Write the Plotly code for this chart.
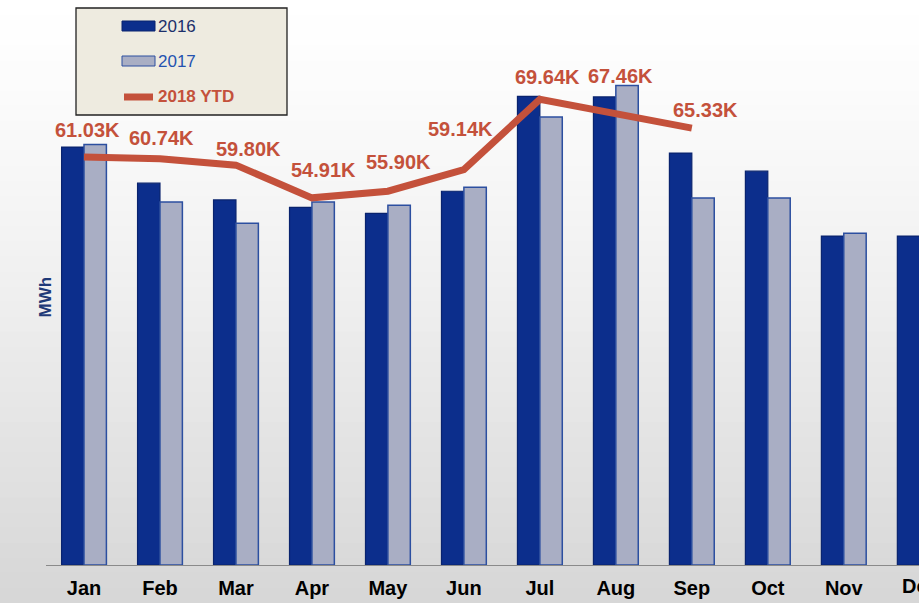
import plotly.graph_objects as go

# ── data ──────────────────────────────────────────────────────────────────────
months = ["Jan", "Feb", "Mar", "Apr", "May", "Jun",
          "Jul", "Aug", "Sep", "Oct", "Nov", "Dec"]
mwh_2016 = [62.5, 57.1, 54.6, 53.5, 52.6, 55.9, 70.1, 70.0, 61.6, 58.9, 49.2, 49.2]
mwh_2017 = [62.9, 54.3, 51.1, 54.3, 53.8, 56.5, 67.0, 71.7, 54.9, 54.9, 49.6, 55.0]
ytd_months = months[:9]
mwh_2018 = [61.03, 60.74, 59.80, 54.91, 55.90, 59.14, 69.64, 67.46, 65.33]

NAVY = "#0c2e8c"
GREY = "#a9aec4"
RED = "#c4513b"
FONT = "Liberation Sans, Arial, sans-serif"

# label nudges (px) so the value labels sit like the original
lbl_dx = [4, 2, 13, 12, 11, -3, 8, 5, 14]
lbl_dy = [27, 21, 16, 28, 29, 41, 22, 38, 18]

fig = go.Figure()
fig.add_trace(go.Bar(
    x=months, y=mwh_2016, name="2016",
    marker=dict(color=NAVY, line=dict(color="#09236e", width=1.2)),
))
fig.add_trace(go.Bar(
    x=months, y=mwh_2017, name="2017",
    marker=dict(color=GREY, line=dict(color="#2c4fa0", width=1.5)),
))
fig.add_trace(go.Scatter(
    x=ytd_months, y=mwh_2018, name="2018 YTD", mode="lines",
    line=dict(color=RED, width=7),
))

# ── layout helpers (pixel -> paper) ───────────────────────────────────────────
W, H, L, B = 919, 603, 46, 38
PW, PH = W - L, H - B


def px(xp):
    return (xp - L) / PW


def py(yp):
    return (H - B - yp) / PH


ann = []
# value labels for 2018
for m, v, dx, dy in zip(ytd_months, mwh_2018, lbl_dx, lbl_dy):
    ann.append(dict(
        x=m, y=v, xref="x", yref="y", text=f"<b>{v:.2f}K</b>",
        showarrow=False, yshift=dy, xshift=dx,
        font=dict(family=FONT, size=20, color=RED),
    ))

# Dec label (cut off by the right edge, as in the original)
ann.append(dict(
    x=px(920), y=0, xref="paper", yref="paper", text="<b>Dec</b>", showarrow=False,
    xanchor="center", yanchor="top", yshift=-8,
    font=dict(family=FONT, size=20, color="black"),
))

# axis title
ann.append(dict(
    x=px(33), y=py(297), xref="paper", yref="paper", text="<b>MWh</b>",
    showarrow=False, textangle=-90,
    font=dict(family=FONT, size=17, color="#1f3a78"),
))

# ── background gradient + manual legend ──────────────────────────────────────
shapes = []
n = 40
for i in range(n):
    c = int(255 - 40 * (i / (n - 1)) ** 1.3)
    shapes.append(dict(
        type="rect", xref="paper", yref="paper", layer="below",
        x0=px(0), x1=px(W), y0=py(H * i / n), y1=py(H * (i + 1) / n + 1),
        fillcolor=f"rgb({c},{c},{c})", line=dict(width=0),
    ))

shapes.append(dict(
    type="rect", xref="paper", yref="paper",
    x0=px(76), x1=px(287), y0=py(8), y1=py(115),
    fillcolor="#eeebe0", line=dict(color="#222", width=1.3),
))
shapes.append(dict(
    type="rect", xref="paper", yref="paper",
    x0=px(122), x1=px(155), y0=py(21), y1=py(31),
    fillcolor=NAVY, line=dict(color="#09236e", width=1),
))
shapes.append(dict(
    type="rect", xref="paper", yref="paper",
    x0=px(122), x1=px(155), y0=py(56), y1=py(66),
    fillcolor=GREY, line=dict(color="#2c4fa0", width=1),
))
shapes.append(dict(
    type="line", xref="paper", yref="paper",
    x0=px(124), x1=px(153), y0=py(97), y1=py(97),
    line=dict(color=RED, width=7),
))

legend_items = [("2016", 26, "#1c2f6a", False),
                ("2017", 61, "#2452b0", False),
                ("2018 YTD", 97, RED, True)]
for txt, yy, col, bold in legend_items:
    ann.append(dict(
        x=px(156), y=py(yy), xref="paper", yref="paper",
        text=f"<b>{txt}</b>" if bold else txt, showarrow=False,
        xanchor="left", yanchor="middle",
        font=dict(family=FONT, size=17, color=col),
    ))

fig.update_layout(
    width=W, height=H,
    margin=dict(l=L, r=0, t=0, b=B),
    paper_bgcolor="white",
    plot_bgcolor="rgba(0,0,0,0)",
    barmode="group", bargap=0.41, bargroupgap=0,
    showlegend=False,
    font=dict(family=FONT),
    xaxis=dict(
        range=[-0.5, 10.99], showgrid=False, zeroline=False,
        showline=True, linecolor="#8a8a8a", linewidth=1,
        ticks="", tickfont=dict(family=FONT, size=20, color="black"),
        tickvals=list(range(11)), ticktext=[f"<b>{m}</b>" for m in months[:11]],
        ticklabelstandoff=5,
    ),
    yaxis=dict(
        range=[0, 84.5], showgrid=False, zeroline=False,
        showticklabels=False, showline=False,
    ),
    shapes=shapes,
    annotations=ann,
)

fig.write_html("out.html", config={"displayModeBar": False},
               post_script="document.body.style.margin='0';")
